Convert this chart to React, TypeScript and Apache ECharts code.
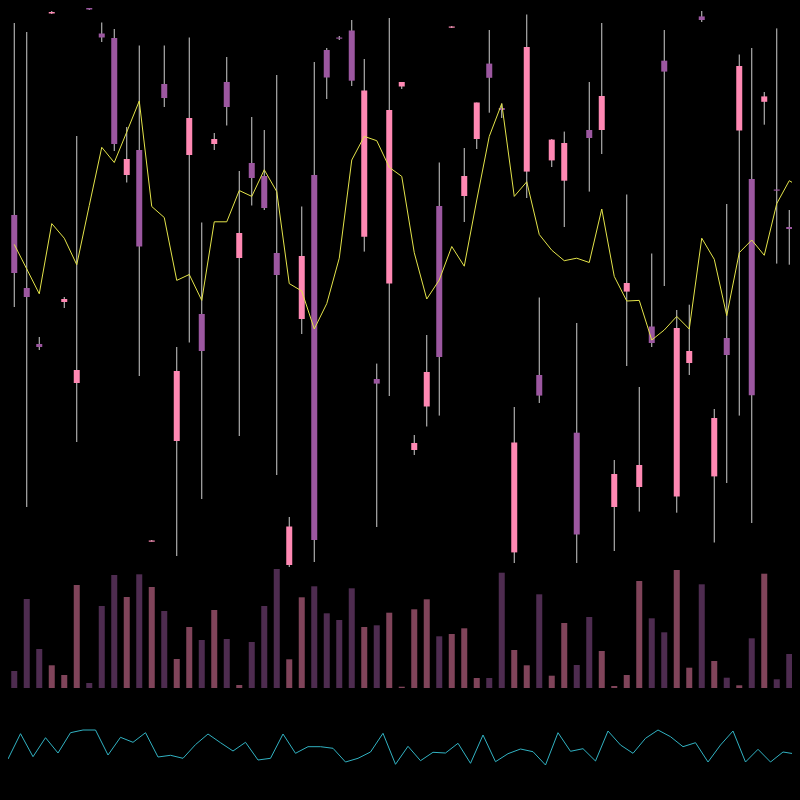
import React, { useEffect, useRef } from "react";
import * as echarts from "echarts";

// Candles: [open, close, low, high]
const candles: number[][] = [
  [353, 295, 261, 545], [280, 271, 61, 536], [224, 221, 218, 231], [554.5, 556, 554, 557],
  [266, 269, 260, 271], [185, 198, 126, 432], [560, 558.5, 558, 561], [534.5, 530.5, 526, 545.5],
  [530, 424, 417, 539], [393, 409, 385.5, 441], [418, 321.5, 192, 522.5], [27, 27.5, 26.5, 28],
  [484, 470, 461, 522.5], [127, 197, 12, 221], [413, 450, 225.5, 530.5], [254, 217, 69, 345.5],
  [424, 429, 418, 435], [486, 461, 442.5, 511], [310, 335, 132, 397], [405, 390, 362.5, 451],
  [392, 360, 358, 438], [315, 293, 93, 493], [3, 41.5, 1, 51], [249, 312, 234, 361.5],
  [393, 28, 6, 506], [518, 490.5, 469, 520], [530.5, 529.5, 528, 532], [537.5, 487.3, 482, 548],
  [331.3, 477.5, 316.4, 509], [189, 184.4, 41, 204.4], [284.4, 458, 172, 550], [481.5, 486, 479, 486],
  [118, 125, 113, 133], [161.5, 196, 141.5, 233], [362, 211, 152.4, 405.5], [540.5, 541.5, 540, 542],
  [372, 392, 346, 420], [429, 465.5, 419, 465.5], [504.4, 490.2, 455.3, 538], [460, 458, 450, 464.4],
  [15.6, 125.5, 5, 161], [396.4, 521, 370, 553.5], [193, 172.4, 165, 270.5], [407.6, 428.4, 401, 429],
  [387.3, 425, 341, 436.4], [135.3, 33.5, 5, 245], [438, 430, 376.4, 486], [438, 472, 414, 545],
  [61, 94, 17, 108], [276.4, 285, 202, 373.5], [81, 103, 56.4, 181], [241.5, 225, 221, 314.5],
  [507.3, 496.4, 282, 538], [71.6, 240, 55.3, 258], [205, 217, 193, 263.3], [551.6, 548, 546, 557],
  [91.6, 150, 25.5, 159], [230, 213, 85, 364], [437.5, 502, 152.4, 513.5], [389, 172.7, 45, 520],
  [466.2, 471.6, 443.3, 476], [378.5, 377.5, 304.4, 539.6], [341, 339, 303.3, 358], [429.5, 428, 427, 430],
];

const maLine: number[] = [
  323.6, 299, 274.2, 344.4, 329.8, 303.3, 362.5, 420.7, 405.5, 436, 467, 361.5, 350.5, 287.6, 293.5, 267.6,
  346.2, 346.2, 377.5, 371.6, 398.2, 376.4, 284.4, 277, 239, 264.4, 309.8, 408, 431.6, 427.3, 400.7, 391.6,
  315.3, 269, 288, 321.5, 301.8, 368, 431.6, 464.4, 371.6, 386.2, 333.5, 317.8, 307.3, 309.8, 305.5, 359,
  291.6, 267, 267.6, 228, 238, 251.6, 239, 329.8, 308.7, 252.4, 315.3, 328, 312.7, 364.4, 387.3, 380,
];

const volumes: number[] = [
  17, 89, 39, 22.7, 13, 103, 5, 82, 113, 91, 113.7, 101, 77, 29, 61, 48,
  78, 49, 3, 46, 82, 119, 28.7, 90.7, 101.7, 74.7, 68, 99.7, 61, 62.7, 75.3, 1.3,
  78.7, 88.7, 51.7, 54, 59.7, 10, 10, 115.3, 38, 22.7, 93.7, 12.3, 65, 23, 71, 37,
  2, 13, 107, 69.7, 55.7, 118, 20.3, 103.7, 27, 10.3, 2.7, 49.7, 114.3, 8.7, 34, 116.3,
];

const indicator: number[] = [
  11, 36.3, 13.3, 32.3, 17, 37.3, 40, 40, 15, 32.7, 27.7, 37.3, 13, 14.7, 11.7, 25.4,
  36, 27.3, 19, 27.7, 10, 11.7, 36, 16.7, 23.3, 23.3, 21.7, 8, 11.7, 18, 36.7, 5.7,
  23.7, 9.3, 17.7, 17, 26.7, 6.7, 35, 8.3, 16.3, 21, 18.3, 5, 37.3, 18.7, 21.3, 9,
  39, 25, 16.7, 31.7, 40, 33.3, 23.3, 27.3, 8, 25, 39, 8, 20.7, 8, 18, 16,
];

const categories: string[] = candles.map((_, i) => String(i + 1));

const UP = "#ff88b3";
const DOWN = "#9c57a0";
const UP_VOL = "rgba(255,136,179,0.5)";
const DOWN_VOL = "rgba(156,87,160,0.5)";

export default function App() {
  const ref = useRef<HTMLDivElement>(null);
  useEffect(() => {
    document.body.style.background = "#000";
    document.body.style.overflow = "hidden";
    document.documentElement.style.overflow = "hidden";
    if (!ref.current) return;
    const chart = echarts.init(ref.current, undefined, { renderer: "svg" });
    const candleData = candles.map((c, i) => [i, c[0], c[1], c[2], c[3]]);
    const volData = volumes.map((v, i) => ({
      value: v,
      itemStyle: { color: candles[i][1] >= candles[i][0] ? UP_VOL : DOWN_VOL },
    }));
    chart.setOption({
      animation: false,
      backgroundColor: "#000",
      grid: [
        { left: 0, right: 0, top: 0, height: 560 },
        { left: 0, right: 0, top: 560, height: 120 },
        { left: 0, width: 787.5, top: 712, height: 50 },
      ],
      xAxis: [
        { type: "category", data: categories, gridIndex: 0, show: false, boundaryGap: true },
        { type: "category", data: categories, gridIndex: 1, show: false, boundaryGap: true },
        { type: "category", data: categories, gridIndex: 2, show: false, boundaryGap: false },
      ],
      yAxis: [
        { type: "value", gridIndex: 0, min: 0, max: 560, show: false, splitLine: { show: false } },
        { type: "value", gridIndex: 1, min: 0, max: 120, show: false, splitLine: { show: false } },
        { type: "value", gridIndex: 2, min: 0, max: 50, show: false, splitLine: { show: false } },
      ],
      series: [
        {
          type: "custom",
          xAxisIndex: 0,
          yAxisIndex: 0,
          data: candleData,
          encode: { x: 0, y: [1, 2, 3, 4] },
          renderItem: (params: any, api: any) => {
            const idx = api.value(0);
            const open = api.value(1);
            const close = api.value(2);
            const low = api.value(3);
            const high = api.value(4);
            const pO = api.coord([idx, open]);
            const pC = api.coord([idx, close]);
            const pL = api.coord([idx, low]);
            const pH = api.coord([idx, high]);
            const bw = 6;
            const top = Math.min(pO[1], pC[1]);
            const h = Math.max(1.2, Math.abs(pO[1] - pC[1]));
            const up = close >= open;
            return {
              type: "group",
              children: [
                {
                  type: "line",
                  shape: { x1: pH[0], y1: pH[1], x2: pL[0], y2: pL[1] },
                  style: { stroke: "#cfcfcf", lineWidth: 1 },
                },
                {
                  type: "rect",
                  shape: { x: pO[0] - bw / 2, y: top, width: bw, height: h },
                  style: { fill: up ? UP : DOWN },
                },
              ],
            };
          },
        },
        {
          type: "line",
          xAxisIndex: 0,
          yAxisIndex: 0,
          data: maLine,
          showSymbol: false,
          symbol: "none",
          lineStyle: { color: "#e4e44a", width: 1 },
          z: 3,
        },
        {
          type: "bar",
          xAxisIndex: 1,
          yAxisIndex: 1,
          data: volData,
          barWidth: 6,
        },
        {
          type: "line",
          xAxisIndex: 2,
          yAxisIndex: 2,
          data: indicator,
          showSymbol: false,
          symbol: "none",
          lineStyle: { color: "#31b2c2", width: 1 },
        },
      ],
    });
    return () => chart.dispose();
  }, []);
  return <div ref={ref} style={{ width: 800, height: 800 }} />;
}
